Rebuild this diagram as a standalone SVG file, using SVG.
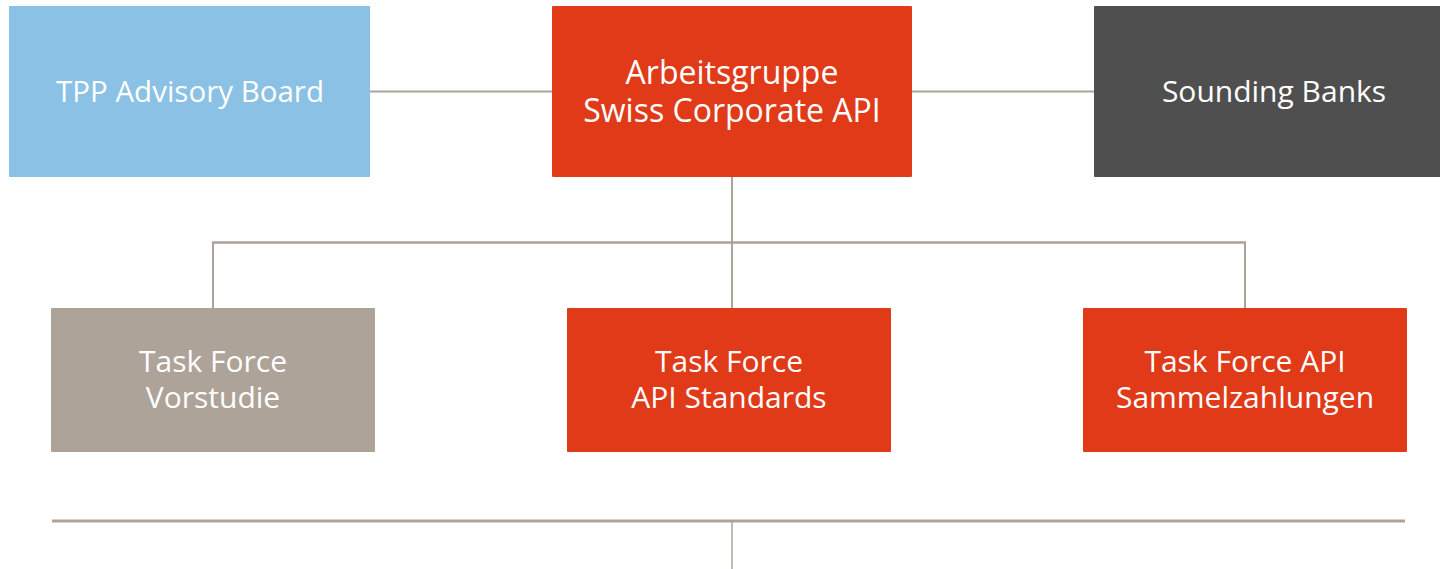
<svg xmlns="http://www.w3.org/2000/svg" width="1440" height="569" viewBox="0 0 1440 569">
<style>
.lbl{font-family:"Open Sans","Noto Sans",sans-serif;font-size:30px;fill:#ffffff;text-anchor:middle}
.big{font-size:32px}
.ln{stroke:#ADA398;fill:none}
</style>
<rect width="1440" height="569" fill="#ffffff"/>
<g id="connectors">
<line class="ln" x1="370" y1="91.5" x2="552" y2="91.5" stroke-width="2"/>
<line class="ln" x1="912" y1="91.5" x2="1094" y2="91.5" stroke-width="2"/>
<line class="ln" x1="732" y1="177" x2="732" y2="308" stroke-width="2"/>
<line class="ln" x1="212" y1="242.5" x2="1246" y2="242.5" stroke-width="2.5"/>
<line class="ln" x1="213" y1="242" x2="213" y2="308" stroke-width="2"/>
<line class="ln" x1="1245" y1="242" x2="1245" y2="308" stroke-width="2"/>
<line class="ln" x1="52" y1="521" x2="1405" y2="521" stroke-width="3"/>
<line class="ln" x1="732" y1="521" x2="732" y2="569" stroke-width="1.5"/>
</g>
<g id="tpp">
<rect x="9" y="6" width="361" height="171" rx="1" fill="#8AC1E4"/>
<text class="lbl" x="190" y="102" style="font-size:29.5px">TPP Advisory Board</text>
</g>
<g id="arbeitsgruppe">
<rect x="552" y="6" width="360" height="171" rx="1" fill="#E03A19"/>
<text class="lbl big" x="732" y="84">Arbeitsgruppe</text>
<text class="lbl big" x="732" y="121.5">Swiss Corporate API</text>
</g>
<g id="sounding">
<rect x="1094" y="6" width="360" height="171" rx="1" fill="#4F4F4F"/>
<text class="lbl" x="1274" y="102">Sounding Banks</text>
</g>
<g id="vorstudie">
<rect x="51" y="308" width="324" height="144" rx="1" fill="#AEA398"/>
<text class="lbl" x="213" y="372">Task Force</text>
<text class="lbl" x="213" y="408">Vorstudie</text>
</g>
<g id="standards">
<rect x="567" y="308" width="324" height="144" rx="1" fill="#E03A19"/>
<text class="lbl" x="729" y="372">Task Force</text>
<text class="lbl" x="729" y="408">API Standards</text>
</g>
<g id="sammel">
<rect x="1083" y="308" width="324" height="144" rx="1" fill="#E03A19"/>
<text class="lbl" x="1245" y="372">Task Force API</text>
<text class="lbl" x="1245" y="408">Sammelzahlungen</text>
</g>
</svg>
